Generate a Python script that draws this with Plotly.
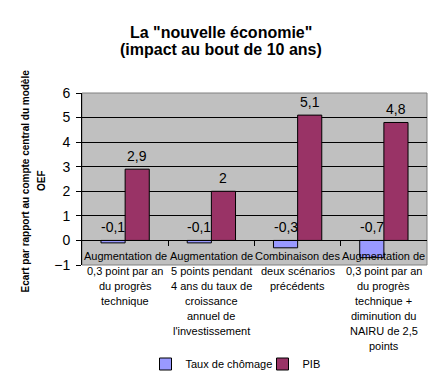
import plotly.graph_objects as go

# ---- data ----
categories = [
    "Augmentation de<br>0,3 point par an<br>du progrès<br>technique",
    "Augmentation de<br>5 points pendant<br>4 ans du taux de<br>croissance<br>annuel de<br>l'investissement",
    "Combinaison des<br>deux scénarios<br>précédents",
    "Augmentation de<br>0,3 point par an<br>du progrès<br>technique +<br>diminution du<br>NAIRU de 2,5<br>points",
]
chomage = [-0.1, -0.1, -0.3, -0.7]
pib = [2.9, 2.0, 5.1, 4.8]
series_names = ["Taux de chômage", "PIB"]
title_lines = ['La "nouvelle économie"', "(impact au bout de 10 ans)"]
ytitle_lines = ["Ecart par rapport au compte central du modèle", "OEF"]
y_ticks = [-1, 0, 1, 2, 3, 4, 5, 6]

# ---- style ----
FONT = "Liberation Sans, Arial, sans-serif"
BLUE = "#9999FF"
PINK = "#993366"
W, H = 442, 381
L, R, T, B = 82, 15, 93, 116
BARGAP = 0.44
plot_w = W - L - R
plot_h = H - T - B
LINE_STEP = 15


def fmt(v):
    return ("%g" % v).replace(".", ",")


xidx = list(range(len(categories)))

fig = go.Figure()
fig.add_trace(go.Bar(x=xidx, y=chomage, name=series_names[0],
                     marker=dict(color=BLUE, line=dict(color="black", width=1))))
fig.add_trace(go.Bar(x=xidx, y=pib, name=series_names[1],
                     marker=dict(color=PINK, line=dict(color="black", width=1))))

annotations = []
half = (1 - BARGAP) / 4
for i, (a, b) in enumerate(zip(chomage, pib)):
    for off, v in ((-half, a), (half, b)):
        annotations.append(dict(x=i + off, y=max(v, 0), xref="x", yref="y",
                                text=fmt(v), showarrow=False, yanchor="bottom",
                                yshift=3, font=dict(family=FONT, size=14, color="black")))
    for k, line in enumerate(categories[i].split("<br>")):
        annotations.append(dict(x=i, y=0, xref="x", yref="y", text=line,
                                showarrow=False, yanchor="middle",
                                yshift=-(16 + k * LINE_STEP),
                                font=dict(family=FONT, size=11, color="black")))

# title lines
for line, py in zip(title_lines, (32, 49)):
    annotations.append(dict(x=(W / 2 - L) / plot_w, y=(plot_h + T - py) / plot_h,
                            xref="paper", yref="paper", text="<b>%s</b>" % line,
                            showarrow=False, xanchor="center", yanchor="middle",
                            font=dict(family=FONT, size=16, color="black")))
# y title lines
for line, px in zip(ytitle_lines, (24.5, 41)):
    annotations.append(dict(x=0, y=0.5, xref="paper", yref="paper",
                            text="<b>%s</b>" % line, textangle=-90, showarrow=False,
                            xanchor="center", yanchor="middle", xshift=px - L, yshift=-2,
                            font=dict(family=FONT, size=10, color="black")))

ymin, ymax = y_ticks[0], y_ticks[-1]
fig.update_layout(
    width=W, height=H,
    margin=dict(l=L, r=R, t=T, b=B, autoexpand=False),
    paper_bgcolor="white", plot_bgcolor="#C0C0C0",
    barmode="group", bargap=BARGAP, bargroupgap=0,
    font=dict(family=FONT, size=11, color="black"),
    showlegend=True,
    legend=dict(orientation="h", x=0.5 + 8 / plot_w, xanchor="center",
                y=(plot_h - (364 - T)) / plot_h,
                yanchor="middle", font=dict(family=FONT, size=11, color="black"),
                itemwidth=30, entrywidth=72, entrywidthmode="pixels",
                tracegroupgap=0, bgcolor="rgba(0,0,0,0)"),
    annotations=annotations,
    xaxis=dict(type="linear", range=[-0.5, len(categories) - 0.5],
               tickvals=[i + 0.5 for i in range(len(categories) - 1)],
               showticklabels=False, ticks="outside", ticklen=5, tickcolor="black",
               showgrid=False, zeroline=False, showline=True, linecolor="black",
               anchor="free", position=(0 - ymin) / (ymax - ymin)),
    yaxis=dict(range=[ymin, ymax], tickvals=y_ticks, ticks="outside", ticklen=5,
               tickcolor="black", showline=True, linecolor="black",
               showgrid=True, gridcolor="black", gridwidth=1, zeroline=False,
               ticklabelstandoff=3,
               tickfont=dict(family=FONT, size=14, color="black")),
    shapes=[dict(type="rect", xref="paper", yref="paper", x0=0, x1=1, y0=0, y1=1,
                 line=dict(color="#808080", width=1), layer="below")],
)

fig.write_html("out.html", config={"displayModeBar": False},
               post_script="document.body.style.margin='0px';document.body.style.overflow='hidden';")
